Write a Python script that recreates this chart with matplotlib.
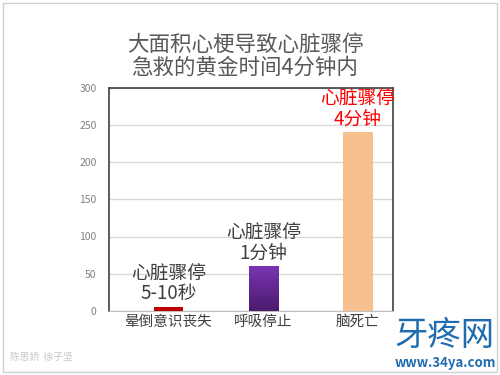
import numpy as np
import matplotlib.pyplot as plt
from matplotlib.colors import LinearSegmentedColormap
from matplotlib.patches import Rectangle

plt.rcParams['font.family'] = ['Noto Sans CJK SC', 'DejaVu Sans']

categories = ['晕倒意识丧失', '呼吸停止', '脑死亡']
values = [5, 60, 240]
bar_labels = ['心脏骤停\n5-10秒', '心脏骤停\n1分钟', '心脏骤停\n4分钟']
bar_colors = ['#C00000', '#7030A0', '#F8C08E']
label_colors = ['#404040', '#404040', '#FF0000']
yticks = [0, 50, 100, 150, 200, 250, 300]
title = '大面积心梗导致心脏骤停\n急救的黄金时间4分钟内'

fig = plt.figure(figsize=(5, 3.75), dpi=100)
ax = fig.add_axes([0.218, 0.171, 0.568, 0.595])

x = range(len(categories))
bars = ax.bar(x, values, width=0.31, color=bar_colors, zorder=3)

# purple bar has a vertical gradient in the original
pb = bars[1]
grad = LinearSegmentedColormap.from_list('pg', ['#4A1B6C', '#7A34B2'])
img = ax.imshow(np.linspace(0, 1, 100).reshape(-1, 1), cmap=grad, origin='lower',
                extent=(pb.get_x(), pb.get_x() + pb.get_width(), 0, pb.get_height()),
                aspect='auto', zorder=4)
img.set_clip_path(pb)

for i, b in enumerate(bars):
    ax.annotate(bar_labels[i], (b.get_x() + b.get_width() / 2, values[i]),
                xytext=(0, 2), textcoords='offset points',
                ha='center', va='bottom', fontsize=13.5,
                color=label_colors[i], linespacing=1.0)

ax.set_xlim(-0.63, 2.37)
ax.set_ylim(0, 300)
ax.set_yticks(yticks)
ax.set_xticks(list(x))
ax.set_xticklabels(categories, fontsize=10.5, color='#404040')
ax.tick_params(axis='y', labelsize=7.5, colors='#808080', length=0, pad=9)
ax.tick_params(axis='x', length=0, pad=3)
ax.grid(axis='y', color='#D9D9D9', linewidth=1, zorder=0)
for s in ['left', 'right', 'top']:
    ax.spines[s].set_color('#404040')
    ax.spines[s].set_linewidth(1.2)
ax.spines['bottom'].set_color('#BFBFBF')

fig.text(0.49, 0.85, title, ha='center', va='center', fontsize=15.5,
         color='#595959', linespacing=1.05)

# outer frame
fig.patches.append(Rectangle((0.006, 0.008), 0.988, 0.985, transform=fig.transFigure,
                             fill=False, edgecolor='#D0D0D0', linewidth=1))

fig.text(0.02, 0.04, '陈思娇  徐子坚', fontsize=7, color='#C8C8C8')
fig.text(0.89, 0.105, '牙疼网', fontsize=24, color='#1F6DB0', ha='center', va='center')
fig.text(0.89, 0.032, 'www.34ya.com', fontsize=9.5, color='#1F6DB0', ha='center',
         va='center', fontweight='bold')

fig.savefig('out.png', dpi=100)
